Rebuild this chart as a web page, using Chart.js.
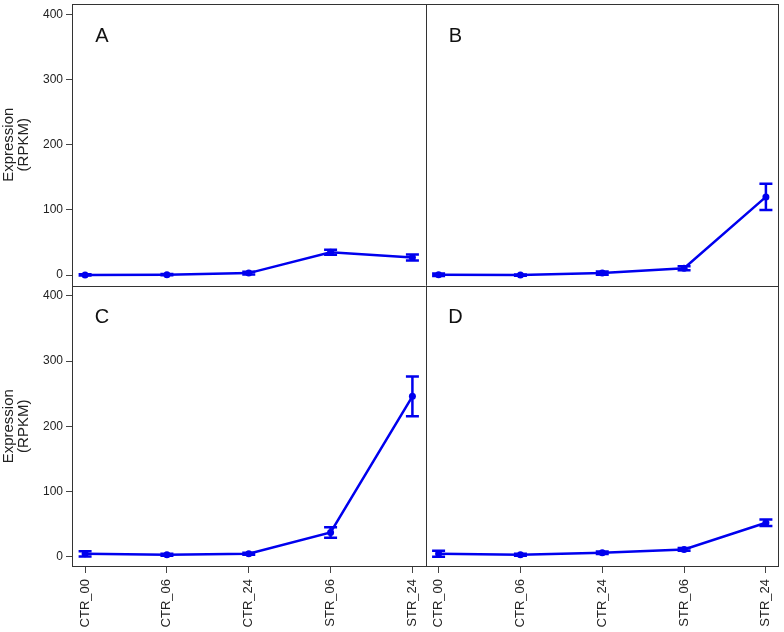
<!DOCTYPE html>
<html>
<head>
<meta charset="utf-8">
<script src="https://cdn.jsdelivr.net/npm/chart.js@4.4.0/dist/chart.umd.min.js"></script>
<style>
  html, body { margin: 0; padding: 0; background: #fff; }
  #wrap { width: 784px; height: 632px; }
</style>
</head>
<body>
<div id="wrap"><canvas id="panels" width="784" height="632"></canvas></div>
<script>
// categories on the x axis
const categories = ['CTR_00', 'CTR_06', 'CTR_24', 'STR_06', 'STR_24'];
const yTicks = [0, 100, 200, 300, 400];
const panelLabels = ['A', 'B', 'C', 'D'];

// mean expression (RPKM) and error per panel
const meanA = [0.2, 0.6, 3, 35, 27];
const errA = [1, 1, 2, 4, 4.5];
const meanB = [0.5, 0, 3, 10.5, 120];
const errB = [2, 1, 2.5, 3, 20];
const meanC = [4.3, 2.8, 4.3, 37, 246];
const errC = [4, 1.5, 1.5, 8, 30.5];
const meanD = [4.3, 2.8, 5.8, 11, 52];
const errD = [4.5, 1.5, 1.8, 2, 5];

const BLUE = '#0000ee';
const FONT = "'Liberation Sans', Arial, sans-serif";

function toPoints(values) {
  return values.map((v, i) => ({ x: i + 1, y: v }));
}

function makeSet(values, errors, xId, yId) {
  return {
    data: toPoints(values),
    errors: errors,
    xAxisID: xId,
    yAxisID: yId,
    borderColor: BLUE,
    backgroundColor: BLUE,
    borderWidth: 2.5,
    pointRadius: 3.5,
    pointBorderWidth: 0,
    pointBackgroundColor: BLUE,
    tension: 0
  };
}

function xScale(weight) {
  return {
    type: 'linear',
    position: 'bottom',
    stack: 'xs',
    stackWeight: 1,
    weight: weight,
    min: 0.84,
    max: 5.16,
    afterBuildTicks: (s) => { s.ticks = categories.map((c, i) => ({ value: i + 1 })); },
    afterFit: (s) => {
      s.height = 65;
      s.paddingLeft = 0; s.paddingRight = 0;
      s.paddingTop = 0; s.paddingBottom = 0;
    },
    ticks: {
      autoSkip: false,
      maxRotation: 90,
      minRotation: 90,
      padding: 6,
      color: '#222',
      font: { family: FONT, size: 13 },
      callback: (v) => categories[Math.round(v) - 1]
    },
    grid: { drawOnChartArea: false, drawTicks: true, tickLength: 6, color: '#444' },
    border: { display: false }
  };
}

function yScale(weight) {
  return {
    type: 'linear',
    position: 'left',
    stack: 'ys',
    stackWeight: 1,
    weight: weight,
    min: -16,
    max: 416,
    afterBuildTicks: (s) => { s.ticks = yTicks.map(v => ({ value: v })); },
    afterFit: (s) => {
      s.width = 72;
      s.paddingLeft = 0; s.paddingRight = 0;
      s.paddingTop = 0; s.paddingBottom = 0;
    },
    ticks: {
      padding: 3,
      color: '#222',
      font: { family: FONT, size: 12 }
    },
    grid: { drawOnChartArea: false, drawTicks: true, tickLength: 6, color: '#444' },
    border: { display: false },
    title: {
      display: true,
      text: ['Expression', '(RPKM)'],
      color: '#222',
      padding: { top: 2, bottom: 0 },
      font: { family: FONT, size: 15, lineHeight: 0.95 }
    }
  };
}

// error bars with caps
const errorBars = {
  id: 'errorBars',
  afterDatasetsDraw(chart) {
    const ctx = chart.ctx;
    ctx.save();
    ctx.strokeStyle = BLUE;
    ctx.lineWidth = 2.5;
    chart.data.datasets.forEach((ds) => {
      const xs = chart.scales[ds.xAxisID];
      const ys = chart.scales[ds.yAxisID];
      ds.data.forEach((p, j) => {
        const e = ds.errors[j];
        const px = xs.getPixelForValue(p.x);
        const top = ys.getPixelForValue(p.y + e);
        const bot = ys.getPixelForValue(p.y - e);
        ctx.beginPath();
        ctx.moveTo(px, top); ctx.lineTo(px, bot);
        ctx.moveTo(px - 6.5, top); ctx.lineTo(px + 6.5, top);
        ctx.moveTo(px - 6.5, bot); ctx.lineTo(px + 6.5, bot);
        ctx.stroke();
      });
    });
    ctx.restore();
  }
};

// panel frames and letters
const frames = {
  id: 'frames',
  afterDraw(chart) {
    const ctx = chart.ctx;
    const a = chart.chartArea;
    const midX = chart.scales.xA.right;
    const midY = chart.scales.yA.bottom;
    ctx.save();
    ctx.strokeStyle = '#333';
    ctx.lineWidth = 1;
    ctx.strokeRect(Math.round(a.left) + 0.5, Math.round(a.top) + 0.5,
      Math.round(a.right - a.left) - 1, Math.round(a.bottom - a.top) - 1);
    ctx.beginPath();
    ctx.moveTo(Math.round(midX) + 0.5, a.top);
    ctx.lineTo(Math.round(midX) + 0.5, a.bottom);
    ctx.moveTo(a.left, Math.round(midY) + 0.5);
    ctx.lineTo(a.right, Math.round(midY) + 0.5);
    ctx.stroke();

    ctx.fillStyle = '#111';
    ctx.font = '20px ' + FONT;
    ctx.textAlign = 'center';
    ctx.textBaseline = 'middle';
    const lefts = [a.left, midX, a.left, midX];
    const tops = [a.top, a.top, midY, midY];
    panelLabels.forEach((t, i) => {
      ctx.fillText(t, lefts[i] + 30, tops[i] + 32);
    });
    ctx.restore();
  }
};

const chart = new Chart(document.getElementById('panels'), {
  type: 'line',
  data: {
    datasets: [
      makeSet(meanA, errA, 'xA', 'yA'),
      makeSet(meanB, errB, 'xB', 'yA'),
      makeSet(meanC, errC, 'xA', 'yC'),
      makeSet(meanD, errD, 'xB', 'yC')
    ]
  },
  options: {
    responsive: false,
    animation: false,
    layout: { padding: { top: 3, right: 5, left: 0, bottom: 0 } },
    plugins: {
      legend: { display: false },
      tooltip: { enabled: false }
    },
    scales: {
      xA: xScale(0),
      xB: xScale(1),
      yA: yScale(1),
      yC: yScale(0)
    }
  },
  plugins: [errorBars, frames]
});
</script>
</body>
</html>
